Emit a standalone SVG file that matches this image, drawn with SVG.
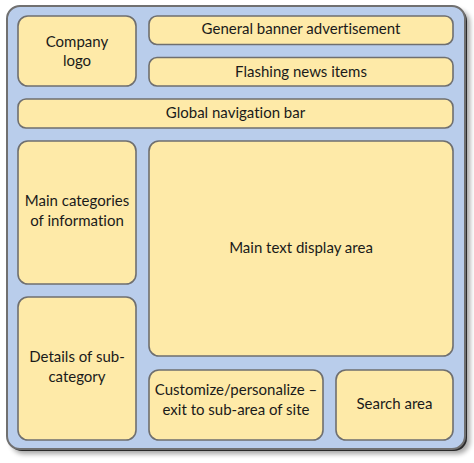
<svg xmlns="http://www.w3.org/2000/svg" width="474" height="463" viewBox="0 0 474 463">
  <defs>
    <filter id="shadow" x="-5%" y="-5%" width="115%" height="115%">
      <feGaussianBlur stdDeviation="2.5"/>
    </filter>
  </defs>
  <style>
    .panel { fill: #feeaa8; stroke: #6f6f6f; stroke-width: 1.6; }
    .label { font-family: Lato, "Liberation Sans", sans-serif; font-size: 15px; fill: #1a1a1a; text-anchor: middle; font-variant-ligatures: none; }
  </style>
  <rect width="474" height="463" fill="#ffffff"/>

  <!-- page frame with drop shadow -->
  <g id="frame">
    <rect x="11" y="10" width="459" height="444" rx="13" fill="#000000" opacity="0.35" filter="url(#shadow)"/>
    <rect x="9" y="8" width="458" height="443" rx="13" fill="#2a2a2a"/>
    <rect x="7" y="6" width="458" height="443" rx="13" fill="#b9cdeb" stroke="#707070" stroke-width="2"/>
  </g>

  <g id="company-logo">
    <rect class="panel" x="18" y="16" width="118" height="70" rx="10"/>
    <text class="label" x="77" y="47">Company</text>
    <text class="label" x="77" y="66">logo</text>
  </g>

  <g id="banner">
    <rect class="panel" x="149" y="16" width="304" height="28.5" rx="8"/>
    <text class="label" x="301" y="34">General banner advertisement</text>
  </g>

  <g id="news">
    <rect class="panel" x="149" y="57.5" width="304" height="28.5" rx="8"/>
    <text class="label" x="301" y="76.5">Flashing news items</text>
  </g>

  <g id="global-nav">
    <rect class="panel" x="18" y="99" width="435" height="29" rx="8"/>
    <text class="label" x="235.5" y="118">Global navigation bar</text>
  </g>

  <g id="main-categories">
    <rect class="panel" x="18" y="141" width="118" height="143" rx="10"/>
    <text class="label" x="77" y="206">Main categories</text>
    <text class="label" x="77" y="226">of information</text>
  </g>

  <g id="main-text">
    <rect class="panel" x="149" y="141" width="304" height="215" rx="10"/>
    <text class="label" x="301" y="253">Main text display area</text>
  </g>

  <g id="sub-category">
    <rect class="panel" x="18" y="297" width="118" height="143" rx="10"/>
    <text class="label" x="77" y="362">Details of sub-</text>
    <text class="label" x="77" y="382">category</text>
  </g>

  <g id="customize">
    <rect class="panel" x="149" y="370" width="174" height="70" rx="10"/>
    <text class="label" x="236" y="395">Customize/personalize –</text>
    <text class="label" x="236" y="415">exit to sub-area of site</text>
  </g>

  <g id="search">
    <rect class="panel" x="336" y="370" width="117" height="70" rx="10"/>
    <text class="label" x="394.5" y="409">Search area</text>
  </g>
</svg>
